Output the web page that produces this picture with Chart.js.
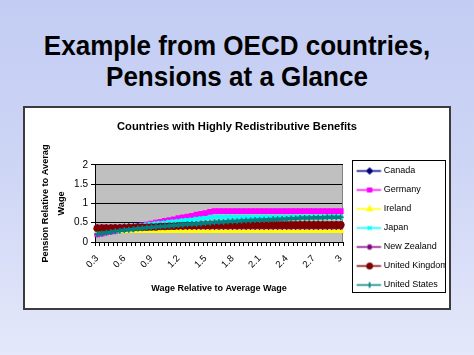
<!DOCTYPE html>
<html><head><meta charset="utf-8">
<script src="https://cdn.jsdelivr.net/npm/chart.js@4.4.1/dist/chart.umd.min.js"></script>
<style>
html,body{margin:0;padding:0;}
body{width:474px;height:355px;overflow:hidden;position:relative;background:linear-gradient(180deg,#c3cdf3 0%,#cdd5f5 45%,#e4e8fa 100%);font-family:"Liberation Sans",Arial,sans-serif;}
h1{position:absolute;left:0;top:30px;width:474px;margin:0;text-align:center;font-size:28px;line-height:31px;font-weight:bold;color:#000;transform:scaleX(0.93);}
#box{position:absolute;left:23px;top:106px;width:424px;height:200px;border:2px solid #3c3c3c;background:#fff;}
canvas{display:block;}
</style></head>
<body>
<h1>Example from OECD countries,<br>Pensions at a Glance</h1>
<div id="box"><canvas id="c" width="424" height="200"></canvas></div>
<script>
const wageLabels = ["0.3","0.35","0.4","0.45","0.5","0.55","0.6","0.65","0.7","0.75",
  "0.8","0.85","0.9","0.95","1","1.05","1.1","1.15","1.2","1.25",
  "1.3","1.35","1.4","1.45","1.5","1.55","1.6","1.65","1.7","1.75",
  "1.8","1.85","1.9","1.95","2","2.05","2.1","2.15","2.2","2.25",
  "2.3","2.35","2.4","2.45","2.5","2.55","2.6","2.65","2.7","2.75",
  "2.8","2.85","2.9","2.95","3"];
const countries = ["Canada","Germany","Ireland","Japan","New Zealand","United Kingdom","United States"];
const canada = [0.34,0.35,0.35,0.36,0.37,0.37,0.38,0.39,0.39,0.40,
  0.41,0.41,0.42,0.43,0.44,0.44,0.44,0.44,0.44,0.44,
  0.44,0.44,0.44,0.44,0.44,0.44,0.44,0.44,0.44,0.44,
  0.44,0.44,0.44,0.44,0.44,0.44,0.44,0.44,0.44,0.44,
  0.44,0.44,0.44,0.44,0.44,0.44,0.44,0.44,0.44,0.44,
  0.44,0.44,0.44,0.44,0.44];
const germany = [0.20,0.22,0.25,0.27,0.29,0.32,0.34,0.36,0.38,0.41,
  0.43,0.45,0.48,0.50,0.52,0.55,0.57,0.59,0.62,0.64,
  0.66,0.68,0.71,0.73,0.75,0.78,0.80,0.80,0.80,0.80,
  0.80,0.80,0.80,0.80,0.80,0.80,0.80,0.80,0.80,0.80,
  0.80,0.80,0.80,0.80,0.80,0.80,0.80,0.80,0.80,0.80,
  0.80,0.80,0.80,0.80,0.80];
const ireland = [0.29,0.29,0.29,0.29,0.29,0.29,0.29,0.29,0.29,0.29,
  0.29,0.29,0.29,0.29,0.29,0.29,0.29,0.29,0.29,0.29,
  0.29,0.29,0.29,0.29,0.29,0.29,0.29,0.29,0.29,0.29,
  0.29,0.29,0.29,0.29,0.29,0.29,0.29,0.29,0.29,0.29,
  0.29,0.29,0.29,0.29,0.29,0.29,0.29,0.29,0.29,0.29,
  0.29,0.29,0.29,0.29,0.29];
const japan = [0.30,0.31,0.33,0.34,0.35,0.37,0.38,0.39,0.41,0.42,
  0.43,0.45,0.46,0.48,0.49,0.50,0.52,0.53,0.54,0.56,
  0.57,0.58,0.60,0.61,0.62,0.64,0.65,0.65,0.65,0.65,
  0.65,0.65,0.65,0.65,0.65,0.65,0.65,0.65,0.65,0.65,
  0.65,0.65,0.65,0.65,0.65,0.65,0.65,0.65,0.65,0.65,
  0.65,0.65,0.65,0.65,0.65];
const newZealand = [0.39,0.39,0.39,0.39,0.39,0.39,0.39,0.39,0.39,0.39,
  0.39,0.39,0.39,0.39,0.39,0.39,0.39,0.39,0.39,0.39,
  0.39,0.39,0.39,0.39,0.39,0.39,0.39,0.39,0.39,0.39,
  0.39,0.39,0.39,0.39,0.39,0.39,0.39,0.39,0.39,0.39,
  0.39,0.39,0.39,0.39,0.39,0.39,0.39,0.39,0.39,0.39,
  0.39,0.39,0.39,0.39,0.39];
const unitedKingdom = [0.36,0.36,0.36,0.36,0.36,0.36,0.36,0.37,0.37,0.38,
  0.38,0.38,0.39,0.39,0.40,0.40,0.41,0.41,0.42,0.42,
  0.43,0.43,0.43,0.44,0.44,0.44,0.45,0.45,0.45,0.45,
  0.45,0.45,0.45,0.45,0.45,0.45,0.45,0.45,0.45,0.45,
  0.45,0.45,0.45,0.45,0.45,0.45,0.45,0.45,0.45,0.45,
  0.45,0.45,0.45,0.45,0.45];
const unitedStates = [0.20,0.22,0.24,0.26,0.28,0.29,0.31,0.32,0.33,0.35,
  0.36,0.37,0.38,0.39,0.40,0.41,0.42,0.43,0.44,0.45,
  0.46,0.47,0.47,0.48,0.49,0.50,0.51,0.52,0.52,0.53,
  0.54,0.54,0.55,0.56,0.56,0.57,0.57,0.58,0.58,0.59,
  0.59,0.60,0.60,0.61,0.61,0.62,0.62,0.62,0.63,0.63,
  0.63,0.64,0.64,0.64,0.64];
const yTickValues = [0, 0.5, 1, 1.5, 2];

const seriesData = [canada, germany, ireland, japan, newZealand, unitedKingdom, unitedStates];
const colors = ['#000080','#ff00ff','#ffff00','#00ffff','#800080','#800000','#008080'];
const markers = ['rectRot','rect','triangle','crossRot','star','circle','cross'];
const filled = [true,true,true,false,false,true,false];

const SANS = '"Liberation Sans",Arial,sans-serif';

function drawMarker(ctx, style, r, x, y, color, fill) {
  ctx.fillStyle = color; ctx.strokeStyle = color; ctx.lineWidth = 1.2;
  if (Chart.helpers && Chart.helpers.drawPoint) {
    Chart.helpers.drawPoint(ctx, {pointStyle: style, radius: r, borderWidth: 1.2, rotation: 0}, x, y);
    if (fill) ctx.fill();
    ctx.stroke();
  }
}
const legendIcons = colors.map((c, i) => {
  const cv = document.createElement('canvas');
  cv.width = 35; cv.height = 11;
  const g = cv.getContext('2d');
  g.strokeStyle = c; g.lineWidth = 1.5;
  g.beginPath(); g.moveTo(8, 5.5); g.lineTo(32.5, 5.5); g.stroke();
  drawMarker(g, markers[i], 2.7, 21, 5.5, c, filled[i]);
  return cv;
});

const plotBg = {
  id: 'plotBg',
  beforeDraw(chart) {
    const {ctx, chartArea: a} = chart;
    ctx.save();
    ctx.fillStyle = '#c0c0c0';
    ctx.fillRect(a.left, a.top, a.right - a.left, a.bottom - a.top);
    ctx.restore();
  },
  beforeDatasetsDraw(chart) {
    const {ctx, chartArea: a} = chart;
    ctx.save();
    ctx.strokeStyle = '#808080'; ctx.lineWidth = 1;
    ctx.beginPath(); ctx.moveTo(a.right - 0.5, a.top); ctx.lineTo(a.right - 0.5, a.bottom); ctx.stroke();
    ctx.restore();
  }
};
const legendBorder = {
  id: 'legendBorder',
  afterDraw(chart) {
    const lg = chart.legend; const hb = lg && lg.legendHitBoxes;
    if (!hb || !hb.length) return;
    const ctx = chart.ctx;
    const top = Math.round(hb[0].top - 6.5) + 0.5;
    const bottom = Math.round(hb[hb.length - 1].top + hb[hb.length - 1].height + 2) + 0.5;
    const left = Math.round(lg.left + 9) + 0.5;
    const right = Math.round(lg.right - 4) + 0.5;
    ctx.save();
    ctx.fillStyle = '#fff';
    ctx.fillRect(right, top - 1, chart.width - right, bottom - top + 2);
    ctx.strokeStyle = '#000'; ctx.lineWidth = 1;
    ctx.strokeRect(left, top, right - left, bottom - top);
    ctx.restore();
  }
};

new Chart(document.getElementById('c'), {
  type: 'line',
  data: {
    labels: wageLabels,
    datasets: countries.map((name, i) => ({
      label: name,
      data: seriesData[i],
      borderColor: colors[i],
      backgroundColor: colors[i],
      borderWidth: 3.5,
      pointStyle: markers[i],
      pointRadius: 3,
      pointBorderWidth: 1.5,
      pointBackgroundColor: colors[i],
      pointBorderColor: colors[i],
      fill: false,
      tension: 0,
      order: 6 - i
    }))
  },
  options: {
    responsive: false,
    animation: false,
    events: [],
    layout: {padding: {top: 0, left: 0, right: 0, bottom: 8.5}},
    plugins: {
      title: {display: true, text: 'Countries with Highly Redistributive Benefits', color: '#000',
        font: {family: SANS, size: 11.2, weight: 'bold'}, padding: {top: 12, bottom: 31.5}},
      legend: {
        position: 'right', align: 'end', maxWidth: 106,
        labels: {
          usePointStyle: true, pointStyleWidth: 26.25, boxHeight: 10.5, padding: 10, color: '#000',
          font: {family: SANS, size: 9},
          sort: (a, b) => a.datasetIndex - b.datasetIndex,
          generateLabels(chart) {
            const items = Chart.defaults.plugins.legend.labels.generateLabels(chart);
            items.forEach(it => { it.pointStyle = legendIcons[it.datasetIndex]; });
            return items;
          }
        }
      },
      tooltip: {enabled: false}
    },
    scales: {
      x: {
        type: 'category', offset: true,
        grid: {offset: true, drawOnChartArea: false, tickLength: 4, color: '#000'},
        border: {color: '#000', width: 1},
        ticks: {autoSkip: false, maxRotation: 45, minRotation: 45, color: '#000', padding: 7,
          font: {family: SANS, size: 9.5},
          callback: function (v, i) { return i % 6 === 0 ? this.getLabelForValue(v) : ''; }},
        title: {display: true, text: 'Wage Relative to Average Wage', color: '#000',
          font: {family: SANS, size: 9, weight: 'bold'}, padding: {top: 0, bottom: 6}},
        afterFit(s) { s.height = 57.5; }
      },
      y: {
        min: 0, max: 2,
        afterBuildTicks(s) { s.ticks = yTickValues.map(v => ({value: v})); },
        ticks: {color: '#000', font: {family: SANS, size: 10}, padding: 3,
          callback: v => String(v)},
        grid: {color: '#000', tickLength: 4},
        border: {color: '#000'},
        title: {display: true, text: ['Pension Relative to Averag', 'Wage'], color: '#000',
          font: {family: SANS, size: 9.2, weight: 'bold', lineHeight: 1.74}, padding: {top: 12, bottom: 0}},
        afterFit(s) { s.width = 70; }
      }
    }
  },
  plugins: [plotBg, legendBorder]
});
</script>
</body></html>
